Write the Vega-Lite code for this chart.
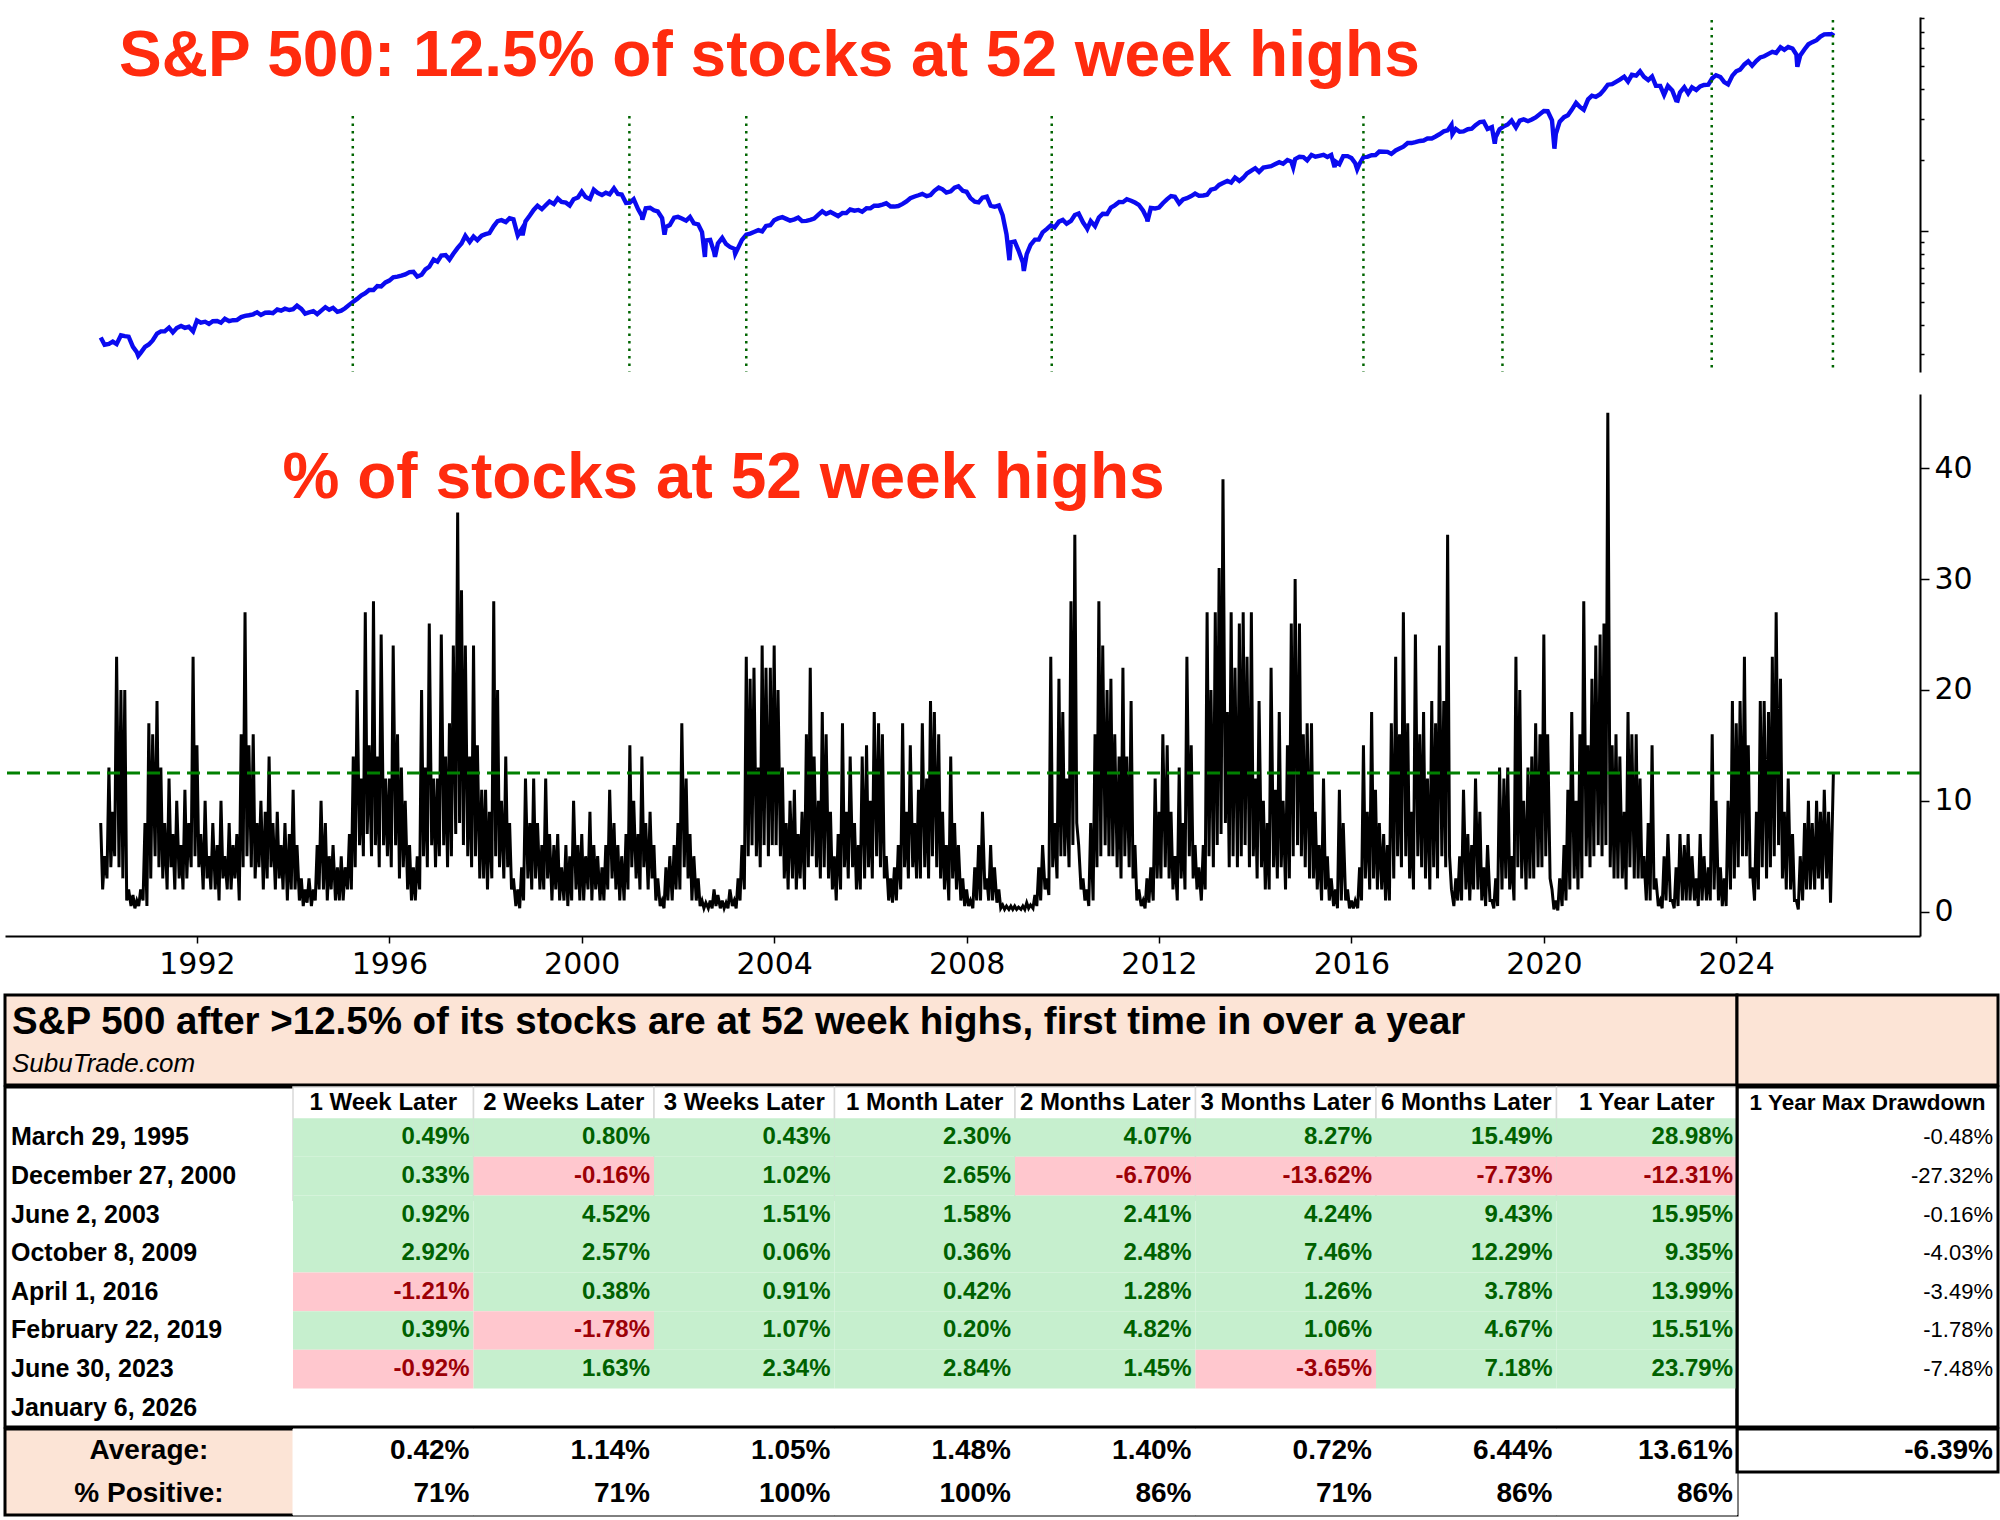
{
  "$schema": "https://vega.github.io/schema/vega-lite/v6.json",
  "padding": {"left": 3, "top": 17, "right": 2, "bottom": 4},
  "config": {
    "view": {"stroke": null},
    "font": "Liberation Sans",
    "locale": {"number": {"decimal": ".", "thousands": ",", "grouping": [3], "currency": ["$", ""], "minus": "-"}},
    "axis": {"labelFont": "DejaVu Sans", "labelColor": "black", "tickColor": "black", "domainColor": "black", "grid": false, "title": null}
  },
  "datasets": {
    "spx": [
      {"t":1990,"p":353},{"t":1990.08,"p":329},{"t":1990.17,"p":332},{"t":1990.25,"p":339},{"t":1990.33,"p":331},{"t":1990.42,"p":361},{"t":1990.5,"p":358},{"t":1990.58,"p":356},{"t":1990.67,"p":322},{"t":1990.75,"p":306},{"t":1990.78,"p":295},{"t":1990.83,"p":304},{"t":1990.92,"p":322},
      {"t":1991,"p":330},{"t":1991.08,"p":343},{"t":1991.17,"p":367},{"t":1991.25,"p":375},{"t":1991.33,"p":375},{"t":1991.42,"p":389},{"t":1991.5,"p":371},{"t":1991.58,"p":387},{"t":1991.67,"p":395},{"t":1991.75,"p":388},{"t":1991.83,"p":392},{"t":1991.92,"p":375},
      {"t":1992,"p":417},{"t":1992.08,"p":408},{"t":1992.17,"p":412},{"t":1992.25,"p":403},{"t":1992.33,"p":414},{"t":1992.42,"p":415},{"t":1992.5,"p":408},{"t":1992.58,"p":424},{"t":1992.67,"p":414},{"t":1992.75,"p":418},{"t":1992.83,"p":419},{"t":1992.92,"p":431},
      {"t":1993,"p":436},{"t":1993.08,"p":439},{"t":1993.17,"p":443},{"t":1993.25,"p":452},{"t":1993.33,"p":440},{"t":1993.42,"p":450},{"t":1993.5,"p":451},{"t":1993.58,"p":448},{"t":1993.67,"p":464},{"t":1993.75,"p":459},{"t":1993.83,"p":468},{"t":1993.92,"p":462},
      {"t":1994,"p":466},{"t":1994.08,"p":482},{"t":1994.17,"p":467},{"t":1994.25,"p":446},{"t":1994.33,"p":451},{"t":1994.42,"p":457},{"t":1994.5,"p":444},{"t":1994.58,"p":458},{"t":1994.67,"p":475},{"t":1994.75,"p":463},{"t":1994.83,"p":472},{"t":1994.92,"p":454},
      {"t":1995,"p":459},{"t":1995.08,"p":470},{"t":1995.17,"p":487},{"t":1995.25,"p":501},{"t":1995.33,"p":515},{"t":1995.42,"p":533},{"t":1995.5,"p":545},{"t":1995.58,"p":562},{"t":1995.67,"p":562},{"t":1995.75,"p":584},{"t":1995.83,"p":582},{"t":1995.92,"p":605},
      {"t":1996,"p":616},{"t":1996.08,"p":636},{"t":1996.17,"p":640},{"t":1996.25,"p":646},{"t":1996.33,"p":654},{"t":1996.42,"p":669},{"t":1996.5,"p":671},{"t":1996.58,"p":640},{"t":1996.67,"p":652},{"t":1996.75,"p":687},{"t":1996.83,"p":705},{"t":1996.92,"p":757},
      {"t":1997,"p":741},{"t":1997.08,"p":786},{"t":1997.17,"p":791},{"t":1997.25,"p":757},{"t":1997.33,"p":801},{"t":1997.42,"p":848},{"t":1997.5,"p":885},{"t":1997.58,"p":954},{"t":1997.67,"p":899},{"t":1997.75,"p":947},{"t":1997.83,"p":915},{"t":1997.92,"p":955},
      {"t":1998,"p":970},{"t":1998.08,"p":980},{"t":1998.17,"p":1049},{"t":1998.25,"p":1102},{"t":1998.33,"p":1112},{"t":1998.42,"p":1091},{"t":1998.5,"p":1134},{"t":1998.58,"p":1121},{"t":1998.67,"p":957},{"t":1998.75,"p":1017},{"t":1998.77,"p":959},{"t":1998.83,"p":1099},{"t":1998.92,"p":1164},
      {"t":1999,"p":1229},{"t":1999.08,"p":1280},{"t":1999.17,"p":1238},{"t":1999.25,"p":1286},{"t":1999.33,"p":1335},{"t":1999.42,"p":1302},{"t":1999.5,"p":1373},{"t":1999.58,"p":1329},{"t":1999.67,"p":1320},{"t":1999.75,"p":1283},{"t":1999.83,"p":1363},{"t":1999.92,"p":1389},
      {"t":2000,"p":1469},{"t":2000.08,"p":1394},{"t":2000.17,"p":1366},{"t":2000.25,"p":1499},{"t":2000.33,"p":1452},{"t":2000.42,"p":1421},{"t":2000.5,"p":1455},{"t":2000.58,"p":1431},{"t":2000.67,"p":1518},{"t":2000.75,"p":1437},{"t":2000.83,"p":1429},{"t":2000.92,"p":1315},
      {"t":2001,"p":1320},{"t":2001.08,"p":1366},{"t":2001.17,"p":1240},{"t":2001.25,"p":1160},{"t":2001.26,"p":1117},{"t":2001.33,"p":1249},{"t":2001.42,"p":1256},{"t":2001.5,"p":1224},{"t":2001.58,"p":1211},{"t":2001.67,"p":1134},{"t":2001.72,"p":966},{"t":2001.75,"p":1041},{"t":2001.83,"p":1060},{"t":2001.92,"p":1139},
      {"t":2002,"p":1148},{"t":2002.08,"p":1130},{"t":2002.17,"p":1107},{"t":2002.25,"p":1147},{"t":2002.33,"p":1077},{"t":2002.42,"p":1067},{"t":2002.5,"p":990},{"t":2002.56,"p":776},{"t":2002.58,"p":912},{"t":2002.67,"p":916},{"t":2002.75,"p":815},{"t":2002.77,"p":777},{"t":2002.83,"p":886},{"t":2002.92,"p":936},
      {"t":2003,"p":880},{"t":2003.08,"p":856},{"t":2003.17,"p":841},{"t":2003.19,"p":800},{"t":2003.25,"p":848},{"t":2003.33,"p":917},{"t":2003.42,"p":964},{"t":2003.5,"p":975},{"t":2003.58,"p":990},{"t":2003.67,"p":1008},{"t":2003.75,"p":996},{"t":2003.83,"p":1051},{"t":2003.92,"p":1058},
      {"t":2004,"p":1112},{"t":2004.08,"p":1131},{"t":2004.17,"p":1145},{"t":2004.25,"p":1126},{"t":2004.33,"p":1107},{"t":2004.42,"p":1121},{"t":2004.5,"p":1141},{"t":2004.58,"p":1102},{"t":2004.67,"p":1104},{"t":2004.75,"p":1115},{"t":2004.83,"p":1130},{"t":2004.92,"p":1174},
      {"t":2005,"p":1212},{"t":2005.08,"p":1181},{"t":2005.17,"p":1204},{"t":2005.25,"p":1181},{"t":2005.33,"p":1157},{"t":2005.42,"p":1192},{"t":2005.5,"p":1191},{"t":2005.58,"p":1234},{"t":2005.67,"p":1220},{"t":2005.75,"p":1229},{"t":2005.83,"p":1207},{"t":2005.92,"p":1249},
      {"t":2006,"p":1248},{"t":2006.08,"p":1280},{"t":2006.17,"p":1281},{"t":2006.25,"p":1295},{"t":2006.33,"p":1311},{"t":2006.42,"p":1270},{"t":2006.5,"p":1270},{"t":2006.58,"p":1277},{"t":2006.67,"p":1304},{"t":2006.75,"p":1336},{"t":2006.83,"p":1378},{"t":2006.92,"p":1401},
      {"t":2007,"p":1418},{"t":2007.08,"p":1438},{"t":2007.17,"p":1407},{"t":2007.25,"p":1421},{"t":2007.33,"p":1482},{"t":2007.42,"p":1531},{"t":2007.5,"p":1503},{"t":2007.58,"p":1455},{"t":2007.67,"p":1474},{"t":2007.75,"p":1527},{"t":2007.83,"p":1549},{"t":2007.92,"p":1481},
      {"t":2008,"p":1468},{"t":2008.08,"p":1379},{"t":2008.17,"p":1331},{"t":2008.25,"p":1323},{"t":2008.33,"p":1386},{"t":2008.42,"p":1400},{"t":2008.5,"p":1280},{"t":2008.58,"p":1267},{"t":2008.67,"p":1283},{"t":2008.75,"p":1166},{"t":2008.83,"p":969},{"t":2008.89,"p":752},{"t":2008.92,"p":896},
      {"t":2009,"p":903},{"t":2009.08,"p":826},{"t":2009.17,"p":735},{"t":2009.19,"p":677},{"t":2009.25,"p":798},{"t":2009.33,"p":873},{"t":2009.42,"p":919},{"t":2009.5,"p":919},{"t":2009.58,"p":987},{"t":2009.67,"p":1021},{"t":2009.75,"p":1057},{"t":2009.83,"p":1036},{"t":2009.92,"p":1096},
      {"t":2010,"p":1115},{"t":2010.08,"p":1074},{"t":2010.17,"p":1104},{"t":2010.25,"p":1169},{"t":2010.33,"p":1187},{"t":2010.42,"p":1089},{"t":2010.5,"p":1031},{"t":2010.51,"p":1022},{"t":2010.58,"p":1102},{"t":2010.67,"p":1049},{"t":2010.75,"p":1141},{"t":2010.83,"p":1183},{"t":2010.92,"p":1181},
      {"t":2011,"p":1258},{"t":2011.08,"p":1286},{"t":2011.17,"p":1327},{"t":2011.25,"p":1326},{"t":2011.33,"p":1364},{"t":2011.42,"p":1345},{"t":2011.5,"p":1321},{"t":2011.58,"p":1292},{"t":2011.67,"p":1219},{"t":2011.75,"p":1131},{"t":2011.76,"p":1099},{"t":2011.83,"p":1253},{"t":2011.92,"p":1247},
      {"t":2012,"p":1258},{"t":2012.08,"p":1312},{"t":2012.17,"p":1366},{"t":2012.25,"p":1408},{"t":2012.33,"p":1398},{"t":2012.42,"p":1310},{"t":2012.5,"p":1362},{"t":2012.58,"p":1379},{"t":2012.67,"p":1407},{"t":2012.75,"p":1441},{"t":2012.83,"p":1412},{"t":2012.92,"p":1416},
      {"t":2013,"p":1426},{"t":2013.08,"p":1498},{"t":2013.17,"p":1515},{"t":2013.25,"p":1569},{"t":2013.33,"p":1598},{"t":2013.42,"p":1631},{"t":2013.5,"p":1606},{"t":2013.58,"p":1686},{"t":2013.67,"p":1633},{"t":2013.75,"p":1682},{"t":2013.83,"p":1757},{"t":2013.92,"p":1806},
      {"t":2014,"p":1848},{"t":2014.08,"p":1783},{"t":2014.17,"p":1859},{"t":2014.25,"p":1872},{"t":2014.33,"p":1884},{"t":2014.42,"p":1924},{"t":2014.5,"p":1960},{"t":2014.58,"p":1931},{"t":2014.67,"p":2003},{"t":2014.75,"p":1972},{"t":2014.79,"p":1862},{"t":2014.83,"p":2018},{"t":2014.92,"p":2068},
      {"t":2015,"p":2059},{"t":2015.08,"p":1995},{"t":2015.17,"p":2105},{"t":2015.25,"p":2068},{"t":2015.33,"p":2086},{"t":2015.42,"p":2107},{"t":2015.5,"p":2063},{"t":2015.58,"p":2104},{"t":2015.65,"p":1867},{"t":2015.67,"p":1972},{"t":2015.75,"p":1920},{"t":2015.83,"p":2079},{"t":2015.92,"p":2080},
      {"t":2016,"p":2044},{"t":2016.08,"p":1940},{"t":2016.12,"p":1829},{"t":2016.17,"p":1932},{"t":2016.25,"p":2060},{"t":2016.33,"p":2065},{"t":2016.42,"p":2097},{"t":2016.5,"p":2099},{"t":2016.58,"p":2174},{"t":2016.67,"p":2171},{"t":2016.75,"p":2168},{"t":2016.83,"p":2126},{"t":2016.92,"p":2199},
      {"t":2017,"p":2239},{"t":2017.08,"p":2279},{"t":2017.17,"p":2364},{"t":2017.25,"p":2363},{"t":2017.33,"p":2384},{"t":2017.42,"p":2412},{"t":2017.5,"p":2423},{"t":2017.58,"p":2470},{"t":2017.67,"p":2472},{"t":2017.75,"p":2519},{"t":2017.83,"p":2575},{"t":2017.92,"p":2648},
      {"t":2018,"p":2674},{"t":2018.08,"p":2824},{"t":2018.1,"p":2581},{"t":2018.17,"p":2714},{"t":2018.25,"p":2641},{"t":2018.33,"p":2648},{"t":2018.42,"p":2705},{"t":2018.5,"p":2718},{"t":2018.58,"p":2816},{"t":2018.67,"p":2902},{"t":2018.75,"p":2914},{"t":2018.83,"p":2712},{"t":2018.92,"p":2760},{"t":2018.98,"p":2351},
      {"t":2019,"p":2507},{"t":2019.08,"p":2704},{"t":2019.17,"p":2784},{"t":2019.25,"p":2834},{"t":2019.33,"p":2946},{"t":2019.42,"p":2752},{"t":2019.5,"p":2942},{"t":2019.58,"p":2980},{"t":2019.67,"p":2926},{"t":2019.75,"p":2977},{"t":2019.83,"p":3038},{"t":2019.92,"p":3141},
      {"t":2020,"p":3231},{"t":2020.08,"p":3226},{"t":2020.17,"p":2954},{"t":2020.22,"p":2237},{"t":2020.25,"p":2585},{"t":2020.33,"p":2912},{"t":2020.42,"p":3044},{"t":2020.5,"p":3100},{"t":2020.58,"p":3271},{"t":2020.67,"p":3500},{"t":2020.75,"p":3363},{"t":2020.83,"p":3270},{"t":2020.92,"p":3622},
      {"t":2021,"p":3756},{"t":2021.08,"p":3714},{"t":2021.17,"p":3811},{"t":2021.25,"p":3973},{"t":2021.33,"p":4181},{"t":2021.42,"p":4204},{"t":2021.5,"p":4298},{"t":2021.58,"p":4395},{"t":2021.67,"p":4523},{"t":2021.75,"p":4308},{"t":2021.83,"p":4605},{"t":2021.92,"p":4567},
      {"t":2022,"p":4766},{"t":2022.08,"p":4516},{"t":2022.17,"p":4374},{"t":2022.25,"p":4530},{"t":2022.33,"p":4132},{"t":2022.42,"p":4132},{"t":2022.5,"p":3785},{"t":2022.58,"p":4130},{"t":2022.67,"p":3955},{"t":2022.75,"p":3586},{"t":2022.78,"p":3577},{"t":2022.83,"p":3872},{"t":2022.92,"p":4080},
      {"t":2023,"p":3840},{"t":2023.08,"p":4077},{"t":2023.17,"p":3970},{"t":2023.25,"p":4109},{"t":2023.33,"p":4169},{"t":2023.42,"p":4180},{"t":2023.5,"p":4450},{"t":2023.58,"p":4589},{"t":2023.67,"p":4508},{"t":2023.75,"p":4288},{"t":2023.83,"p":4194},{"t":2023.92,"p":4568},
      {"t":2024,"p":4770},{"t":2024.08,"p":4846},{"t":2024.17,"p":5096},{"t":2024.25,"p":5254},{"t":2024.33,"p":5036},{"t":2024.42,"p":5278},{"t":2024.5,"p":5460},{"t":2024.58,"p":5522},{"t":2024.67,"p":5648},{"t":2024.75,"p":5762},{"t":2024.83,"p":5705},{"t":2024.92,"p":6032},
      {"t":2025,"p":5882},{"t":2025.08,"p":6041},{"t":2025.17,"p":5955},{"t":2025.25,"p":5612},{"t":2025.27,"p":4982},{"t":2025.33,"p":5569},{"t":2025.42,"p":5912},{"t":2025.5,"p":6205},{"t":2025.58,"p":6339},{"t":2025.67,"p":6460},{"t":2025.75,"p":6688},{"t":2025.83,"p":6840},{"t":2025.92,"p":6849},
      {"t":2026,"p":6845},{"t":2026.02,"p":6944}
    ],
    "pct": [
      {"t":1990,"v":8},{"t":1990.04,"v":2},{"t":1990.08,"v":5},{"t":1990.13,"v":3},{"t":1990.17,"v":13},{"t":1990.21,"v":4},{"t":1990.25,"v":9},{"t":1990.29,"v":5},{"t":1990.33,"v":23},{"t":1990.38,"v":4},{"t":1990.42,"v":20},{"t":1990.46,"v":3},{"t":1990.5,"v":20},{"t":1990.54,"v":1},{"t":1990.58,"v":2},{"t":1990.63,"v":0.5},{"t":1990.67,"v":1.5},{"t":1990.71,"v":0.3},{"t":1990.75,"v":1},{"t":1990.79,"v":0.5},{"t":1990.83,"v":2},{"t":1990.88,"v":1},{"t":1990.92,"v":8},{"t":1990.96,"v":0.5},
      {"t":1991,"v":17},{"t":1991.04,"v":3},{"t":1991.08,"v":16},{"t":1991.13,"v":5},{"t":1991.17,"v":19},{"t":1991.21,"v":4},{"t":1991.25,"v":13},{"t":1991.29,"v":3},{"t":1991.33,"v":8},{"t":1991.38,"v":2},{"t":1991.42,"v":12},{"t":1991.46,"v":4},{"t":1991.5,"v":7},{"t":1991.54,"v":2},{"t":1991.58,"v":10},{"t":1991.63,"v":3},{"t":1991.67,"v":6},{"t":1991.71,"v":2},{"t":1991.75,"v":11},{"t":1991.79,"v":3},{"t":1991.83,"v":8},{"t":1991.88,"v":4},{"t":1991.92,"v":23},{"t":1991.96,"v":5},
      {"t":1992,"v":15},{"t":1992.04,"v":4},{"t":1992.08,"v":7},{"t":1992.13,"v":2},{"t":1992.17,"v":10},{"t":1992.21,"v":3},{"t":1992.25,"v":5},{"t":1992.29,"v":2},{"t":1992.33,"v":8},{"t":1992.38,"v":2},{"t":1992.42,"v":6},{"t":1992.46,"v":1},{"t":1992.5,"v":10},{"t":1992.54,"v":3},{"t":1992.58,"v":5},{"t":1992.63,"v":2},{"t":1992.67,"v":8},{"t":1992.71,"v":2},{"t":1992.75,"v":6},{"t":1992.79,"v":3},{"t":1992.83,"v":7},{"t":1992.88,"v":1},{"t":1992.92,"v":16},{"t":1992.96,"v":4},
      {"t":1993,"v":27},{"t":1993.04,"v":5},{"t":1993.08,"v":15},{"t":1993.13,"v":4},{"t":1993.17,"v":16},{"t":1993.21,"v":3},{"t":1993.25,"v":8},{"t":1993.29,"v":4},{"t":1993.33,"v":10},{"t":1993.38,"v":2},{"t":1993.42,"v":9},{"t":1993.46,"v":3},{"t":1993.5,"v":14},{"t":1993.54,"v":4},{"t":1993.58,"v":8},{"t":1993.63,"v":2},{"t":1993.67,"v":9},{"t":1993.71,"v":3},{"t":1993.75,"v":6},{"t":1993.79,"v":2},{"t":1993.83,"v":8},{"t":1993.88,"v":1},{"t":1993.92,"v":7},{"t":1993.96,"v":2},
      {"t":1994,"v":11},{"t":1994.04,"v":2},{"t":1994.08,"v":6},{"t":1994.13,"v":1},{"t":1994.17,"v":3},{"t":1994.21,"v":0.5},{"t":1994.25,"v":2},{"t":1994.29,"v":0.8},{"t":1994.33,"v":3},{"t":1994.38,"v":0.5},{"t":1994.42,"v":2},{"t":1994.46,"v":1},{"t":1994.5,"v":6},{"t":1994.54,"v":2},{"t":1994.58,"v":10},{"t":1994.63,"v":2},{"t":1994.67,"v":8},{"t":1994.71,"v":1},{"t":1994.75,"v":5},{"t":1994.79,"v":2},{"t":1994.83,"v":6},{"t":1994.88,"v":1},{"t":1994.92,"v":4},{"t":1994.96,"v":1},
      {"t":1995,"v":5},{"t":1995.04,"v":1},{"t":1995.08,"v":4},{"t":1995.13,"v":2},{"t":1995.17,"v":7},{"t":1995.21,"v":2},{"t":1995.25,"v":14},{"t":1995.29,"v":4},{"t":1995.33,"v":20},{"t":1995.38,"v":6},{"t":1995.42,"v":12},{"t":1995.46,"v":5},{"t":1995.5,"v":27},{"t":1995.54,"v":7},{"t":1995.58,"v":15},{"t":1995.63,"v":5},{"t":1995.67,"v":28},{"t":1995.71,"v":6},{"t":1995.75,"v":14},{"t":1995.79,"v":4},{"t":1995.83,"v":25},{"t":1995.88,"v":6},{"t":1995.92,"v":12},{"t":1995.96,"v":5},
      {"t":1996,"v":12},{"t":1996.04,"v":4},{"t":1996.08,"v":24},{"t":1996.13,"v":6},{"t":1996.17,"v":16},{"t":1996.21,"v":3},{"t":1996.25,"v":13},{"t":1996.29,"v":4},{"t":1996.33,"v":10},{"t":1996.38,"v":2},{"t":1996.42,"v":6},{"t":1996.46,"v":1},{"t":1996.5,"v":4},{"t":1996.54,"v":1},{"t":1996.58,"v":5},{"t":1996.63,"v":2},{"t":1996.67,"v":20},{"t":1996.71,"v":5},{"t":1996.75,"v":13},{"t":1996.79,"v":4},{"t":1996.83,"v":26},{"t":1996.88,"v":6},{"t":1996.92,"v":12},{"t":1996.96,"v":4},
      {"t":1997,"v":12},{"t":1997.04,"v":5},{"t":1997.08,"v":25},{"t":1997.13,"v":6},{"t":1997.17,"v":14},{"t":1997.21,"v":4},{"t":1997.25,"v":17},{"t":1997.29,"v":5},{"t":1997.33,"v":24},{"t":1997.38,"v":7},{"t":1997.42,"v":36},{"t":1997.46,"v":8},{"t":1997.5,"v":29},{"t":1997.54,"v":6},{"t":1997.58,"v":24},{"t":1997.63,"v":5},{"t":1997.67,"v":14},{"t":1997.71,"v":4},{"t":1997.75,"v":24},{"t":1997.79,"v":5},{"t":1997.83,"v":15},{"t":1997.88,"v":3},{"t":1997.92,"v":11},{"t":1997.96,"v":3},
      {"t":1998,"v":11},{"t":1998.04,"v":2},{"t":1998.08,"v":9},{"t":1998.13,"v":3},{"t":1998.17,"v":28},{"t":1998.21,"v":5},{"t":1998.25,"v":20},{"t":1998.29,"v":4},{"t":1998.33,"v":10},{"t":1998.38,"v":3},{"t":1998.42,"v":14},{"t":1998.46,"v":4},{"t":1998.5,"v":8},{"t":1998.54,"v":2},{"t":1998.58,"v":3},{"t":1998.63,"v":0.5},{"t":1998.67,"v":2},{"t":1998.71,"v":0.3},{"t":1998.75,"v":4},{"t":1998.79,"v":1},{"t":1998.83,"v":12},{"t":1998.88,"v":3},{"t":1998.92,"v":8},{"t":1998.96,"v":2},
      {"t":1999,"v":12},{"t":1999.04,"v":3},{"t":1999.08,"v":8},{"t":1999.13,"v":2},{"t":1999.17,"v":6},{"t":1999.21,"v":2},{"t":1999.25,"v":12},{"t":1999.29,"v":3},{"t":1999.33,"v":7},{"t":1999.38,"v":1},{"t":1999.42,"v":6},{"t":1999.46,"v":2},{"t":1999.5,"v":7},{"t":1999.54,"v":1},{"t":1999.58,"v":4},{"t":1999.63,"v":1},{"t":1999.67,"v":6},{"t":1999.71,"v":0.5},{"t":1999.75,"v":5},{"t":1999.79,"v":1},{"t":1999.83,"v":10},{"t":1999.88,"v":2},{"t":1999.92,"v":6},{"t":1999.96,"v":1},
      {"t":2000,"v":7},{"t":2000.04,"v":1},{"t":2000.08,"v":5},{"t":2000.13,"v":2},{"t":2000.17,"v":9},{"t":2000.21,"v":1},{"t":2000.25,"v":6},{"t":2000.29,"v":2},{"t":2000.33,"v":5},{"t":2000.38,"v":1},{"t":2000.42,"v":4},{"t":2000.46,"v":1},{"t":2000.5,"v":6},{"t":2000.54,"v":2},{"t":2000.58,"v":11},{"t":2000.63,"v":3},{"t":2000.67,"v":8},{"t":2000.71,"v":2},{"t":2000.75,"v":6},{"t":2000.79,"v":1},{"t":2000.83,"v":5},{"t":2000.88,"v":1},{"t":2000.92,"v":7},{"t":2000.96,"v":2},
      {"t":2001,"v":15},{"t":2001.04,"v":4},{"t":2001.08,"v":10},{"t":2001.13,"v":3},{"t":2001.17,"v":7},{"t":2001.21,"v":2},{"t":2001.25,"v":14},{"t":2001.29,"v":4},{"t":2001.33,"v":8},{"t":2001.38,"v":2},{"t":2001.42,"v":9},{"t":2001.46,"v":3},{"t":2001.5,"v":6},{"t":2001.54,"v":1},{"t":2001.58,"v":3},{"t":2001.63,"v":0.5},{"t":2001.67,"v":1},{"t":2001.71,"v":0.3},{"t":2001.75,"v":4},{"t":2001.79,"v":1},{"t":2001.83,"v":5},{"t":2001.88,"v":1},{"t":2001.92,"v":6},{"t":2001.96,"v":2},
      {"t":2002,"v":8},{"t":2002.04,"v":2},{"t":2002.08,"v":17},{"t":2002.13,"v":4},{"t":2002.17,"v":12},{"t":2002.21,"v":3},{"t":2002.25,"v":7},{"t":2002.29,"v":1},{"t":2002.33,"v":5},{"t":2002.38,"v":1},{"t":2002.42,"v":3},{"t":2002.46,"v":0.5},{"t":2002.5,"v":1},{"t":2002.54,"v":0.3},{"t":2002.58,"v":0.8},{"t":2002.63,"v":0.3},{"t":2002.67,"v":1},{"t":2002.71,"v":0.3},{"t":2002.75,"v":2},{"t":2002.79,"v":0.5},{"t":2002.83,"v":1.5},{"t":2002.88,"v":0.3},{"t":2002.92,"v":1},{"t":2002.96,"v":0.3},
      {"t":2003,"v":0.8},{"t":2003.04,"v":0.3},{"t":2003.08,"v":2},{"t":2003.13,"v":0.5},{"t":2003.17,"v":1},{"t":2003.21,"v":0.3},{"t":2003.25,"v":3},{"t":2003.29,"v":1},{"t":2003.33,"v":6},{"t":2003.38,"v":2},{"t":2003.42,"v":23},{"t":2003.46,"v":5},{"t":2003.5,"v":21},{"t":2003.54,"v":6},{"t":2003.58,"v":22},{"t":2003.63,"v":5},{"t":2003.67,"v":13},{"t":2003.71,"v":4},{"t":2003.75,"v":24},{"t":2003.79,"v":6},{"t":2003.83,"v":22},{"t":2003.88,"v":5},{"t":2003.92,"v":22},{"t":2003.96,"v":6},
      {"t":2004,"v":24},{"t":2004.04,"v":6},{"t":2004.08,"v":20},{"t":2004.13,"v":5},{"t":2004.17,"v":13},{"t":2004.21,"v":3},{"t":2004.25,"v":8},{"t":2004.29,"v":2},{"t":2004.33,"v":10},{"t":2004.38,"v":3},{"t":2004.42,"v":11},{"t":2004.46,"v":2},{"t":2004.5,"v":7},{"t":2004.54,"v":3},{"t":2004.58,"v":9},{"t":2004.63,"v":2},{"t":2004.67,"v":16},{"t":2004.71,"v":4},{"t":2004.75,"v":22},{"t":2004.79,"v":5},{"t":2004.83,"v":14},{"t":2004.88,"v":4},{"t":2004.92,"v":10},{"t":2004.96,"v":3},
      {"t":2005,"v":18},{"t":2005.04,"v":4},{"t":2005.08,"v":16},{"t":2005.13,"v":3},{"t":2005.17,"v":9},{"t":2005.21,"v":2},{"t":2005.25,"v":5},{"t":2005.29,"v":1},{"t":2005.33,"v":7},{"t":2005.38,"v":2},{"t":2005.42,"v":17},{"t":2005.46,"v":4},{"t":2005.5,"v":9},{"t":2005.54,"v":3},{"t":2005.58,"v":14},{"t":2005.63,"v":4},{"t":2005.67,"v":8},{"t":2005.71,"v":2},{"t":2005.75,"v":6},{"t":2005.79,"v":2},{"t":2005.83,"v":14},{"t":2005.88,"v":3},{"t":2005.92,"v":15},{"t":2005.96,"v":4},
      {"t":2006,"v":10},{"t":2006.04,"v":3},{"t":2006.08,"v":18},{"t":2006.13,"v":5},{"t":2006.17,"v":17},{"t":2006.21,"v":4},{"t":2006.25,"v":16},{"t":2006.29,"v":3},{"t":2006.33,"v":5},{"t":2006.38,"v":1},{"t":2006.42,"v":3},{"t":2006.46,"v":0.8},{"t":2006.5,"v":4},{"t":2006.54,"v":1},{"t":2006.58,"v":6},{"t":2006.63,"v":2},{"t":2006.67,"v":17},{"t":2006.71,"v":4},{"t":2006.75,"v":9},{"t":2006.79,"v":3},{"t":2006.83,"v":15},{"t":2006.88,"v":4},{"t":2006.92,"v":8},{"t":2006.96,"v":3},
      {"t":2007,"v":11},{"t":2007.04,"v":3},{"t":2007.08,"v":17},{"t":2007.13,"v":4},{"t":2007.17,"v":12},{"t":2007.21,"v":3},{"t":2007.25,"v":19},{"t":2007.29,"v":5},{"t":2007.33,"v":18},{"t":2007.38,"v":4},{"t":2007.42,"v":16},{"t":2007.46,"v":3},{"t":2007.5,"v":9},{"t":2007.54,"v":2},{"t":2007.58,"v":6},{"t":2007.63,"v":1},{"t":2007.67,"v":14},{"t":2007.71,"v":3},{"t":2007.75,"v":8},{"t":2007.79,"v":2},{"t":2007.83,"v":6},{"t":2007.88,"v":1},{"t":2007.92,"v":3},{"t":2007.96,"v":0.5},
      {"t":2008,"v":2},{"t":2008.04,"v":0.5},{"t":2008.08,"v":1},{"t":2008.13,"v":0.3},{"t":2008.17,"v":4},{"t":2008.21,"v":1},{"t":2008.25,"v":6},{"t":2008.29,"v":1},{"t":2008.33,"v":9},{"t":2008.38,"v":2},{"t":2008.42,"v":3},{"t":2008.46,"v":1},{"t":2008.5,"v":6},{"t":2008.54,"v":1},{"t":2008.58,"v":4},{"t":2008.63,"v":0.8},{"t":2008.67,"v":2},{"t":2008.71,"v":0.3},{"t":2008.75,"v":0.6},{"t":2008.79,"v":0.2},{"t":2008.83,"v":0.5},{"t":2008.88,"v":0.2},{"t":2008.92,"v":0.5},{"t":2008.96,"v":0.2},
      {"t":2009,"v":0.5},{"t":2009.04,"v":0.2},{"t":2009.08,"v":0.4},{"t":2009.13,"v":0.2},{"t":2009.17,"v":0.5},{"t":2009.21,"v":0.2},{"t":2009.25,"v":0.8},{"t":2009.29,"v":0.3},{"t":2009.33,"v":0.6},{"t":2009.38,"v":0.3},{"t":2009.42,"v":1.5},{"t":2009.46,"v":0.5},{"t":2009.5,"v":4},{"t":2009.54,"v":1},{"t":2009.58,"v":6},{"t":2009.63,"v":2},{"t":2009.67,"v":3},{"t":2009.71,"v":1.5},{"t":2009.75,"v":23},{"t":2009.79,"v":4},{"t":2009.83,"v":8},{"t":2009.88,"v":3},{"t":2009.92,"v":21},{"t":2009.96,"v":5},
      {"t":2010,"v":18},{"t":2010.04,"v":5},{"t":2010.08,"v":12},{"t":2010.13,"v":4},{"t":2010.17,"v":28},{"t":2010.21,"v":6},{"t":2010.25,"v":34},{"t":2010.29,"v":8},{"t":2010.33,"v":6},{"t":2010.38,"v":2},{"t":2010.42,"v":3},{"t":2010.46,"v":1},{"t":2010.5,"v":2},{"t":2010.54,"v":0.5},{"t":2010.58,"v":8},{"t":2010.63,"v":1},{"t":2010.67,"v":16},{"t":2010.71,"v":4},{"t":2010.75,"v":28},{"t":2010.79,"v":5},{"t":2010.83,"v":24},{"t":2010.88,"v":6},{"t":2010.92,"v":20},{"t":2010.96,"v":5},
      {"t":2011,"v":21},{"t":2011.04,"v":5},{"t":2011.08,"v":16},{"t":2011.13,"v":4},{"t":2011.17,"v":14},{"t":2011.21,"v":3},{"t":2011.25,"v":22},{"t":2011.29,"v":5},{"t":2011.33,"v":14},{"t":2011.38,"v":4},{"t":2011.42,"v":19},{"t":2011.46,"v":3},{"t":2011.5,"v":6},{"t":2011.54,"v":1},{"t":2011.58,"v":2},{"t":2011.63,"v":0.5},{"t":2011.67,"v":1},{"t":2011.71,"v":0.3},{"t":2011.75,"v":3},{"t":2011.79,"v":0.8},{"t":2011.83,"v":4},{"t":2011.88,"v":1},{"t":2011.92,"v":12},{"t":2011.96,"v":3},
      {"t":2012,"v":9},{"t":2012.04,"v":3},{"t":2012.08,"v":16},{"t":2012.13,"v":4},{"t":2012.17,"v":15},{"t":2012.21,"v":3},{"t":2012.25,"v":9},{"t":2012.29,"v":2},{"t":2012.33,"v":5},{"t":2012.38,"v":1},{"t":2012.42,"v":13},{"t":2012.46,"v":3},{"t":2012.5,"v":8},{"t":2012.54,"v":2},{"t":2012.58,"v":23},{"t":2012.63,"v":5},{"t":2012.67,"v":15},{"t":2012.71,"v":3},{"t":2012.75,"v":6},{"t":2012.79,"v":2},{"t":2012.83,"v":4},{"t":2012.88,"v":1},{"t":2012.92,"v":6},{"t":2012.96,"v":2},
      {"t":2013,"v":27},{"t":2013.04,"v":5},{"t":2013.08,"v":20},{"t":2013.13,"v":4},{"t":2013.17,"v":27},{"t":2013.21,"v":6},{"t":2013.25,"v":31},{"t":2013.29,"v":7},{"t":2013.33,"v":39},{"t":2013.38,"v":8},{"t":2013.42,"v":18},{"t":2013.46,"v":4},{"t":2013.5,"v":27},{"t":2013.54,"v":5},{"t":2013.58,"v":22},{"t":2013.63,"v":4},{"t":2013.67,"v":26},{"t":2013.71,"v":5},{"t":2013.75,"v":27},{"t":2013.79,"v":6},{"t":2013.83,"v":23},{"t":2013.88,"v":4},{"t":2013.92,"v":27},{"t":2013.96,"v":5},
      {"t":2014,"v":12},{"t":2014.04,"v":3},{"t":2014.08,"v":19},{"t":2014.13,"v":4},{"t":2014.17,"v":10},{"t":2014.21,"v":2},{"t":2014.25,"v":8},{"t":2014.29,"v":2},{"t":2014.33,"v":22},{"t":2014.38,"v":4},{"t":2014.42,"v":11},{"t":2014.46,"v":3},{"t":2014.5,"v":18},{"t":2014.54,"v":4},{"t":2014.58,"v":10},{"t":2014.63,"v":2},{"t":2014.67,"v":15},{"t":2014.71,"v":3},{"t":2014.75,"v":26},{"t":2014.79,"v":5},{"t":2014.83,"v":30},{"t":2014.88,"v":6},{"t":2014.92,"v":26},{"t":2014.96,"v":5},
      {"t":2015,"v":16},{"t":2015.04,"v":4},{"t":2015.08,"v":17},{"t":2015.13,"v":3},{"t":2015.17,"v":17},{"t":2015.21,"v":3},{"t":2015.25,"v":9},{"t":2015.29,"v":2},{"t":2015.33,"v":6},{"t":2015.38,"v":1},{"t":2015.42,"v":12},{"t":2015.46,"v":2},{"t":2015.5,"v":5},{"t":2015.54,"v":1},{"t":2015.58,"v":3},{"t":2015.63,"v":0.5},{"t":2015.67,"v":2},{"t":2015.71,"v":0.3},{"t":2015.75,"v":11},{"t":2015.79,"v":1},{"t":2015.83,"v":8},{"t":2015.88,"v":1},{"t":2015.92,"v":2},{"t":2015.96,"v":0.3},
      {"t":2016,"v":1},{"t":2016.04,"v":0.3},{"t":2016.08,"v":1},{"t":2016.13,"v":0.3},{"t":2016.17,"v":4},{"t":2016.21,"v":1},{"t":2016.25,"v":15},{"t":2016.29,"v":3},{"t":2016.33,"v":9},{"t":2016.38,"v":2},{"t":2016.42,"v":18},{"t":2016.46,"v":3},{"t":2016.5,"v":11},{"t":2016.54,"v":2},{"t":2016.58,"v":8},{"t":2016.63,"v":2},{"t":2016.67,"v":7},{"t":2016.71,"v":1},{"t":2016.75,"v":6},{"t":2016.79,"v":1},{"t":2016.83,"v":17},{"t":2016.88,"v":3},{"t":2016.92,"v":23},{"t":2016.96,"v":5},
      {"t":2017,"v":16},{"t":2017.04,"v":4},{"t":2017.08,"v":27},{"t":2017.13,"v":5},{"t":2017.17,"v":17},{"t":2017.21,"v":3},{"t":2017.25,"v":9},{"t":2017.29,"v":2},{"t":2017.33,"v":25},{"t":2017.38,"v":5},{"t":2017.42,"v":16},{"t":2017.46,"v":4},{"t":2017.5,"v":18},{"t":2017.54,"v":3},{"t":2017.58,"v":12},{"t":2017.63,"v":2},{"t":2017.67,"v":19},{"t":2017.71,"v":4},{"t":2017.75,"v":17},{"t":2017.79,"v":3},{"t":2017.83,"v":24},{"t":2017.88,"v":5},{"t":2017.92,"v":19},{"t":2017.96,"v":4},
      {"t":2018,"v":34},{"t":2018.04,"v":5},{"t":2018.08,"v":2},{"t":2018.13,"v":0.5},{"t":2018.17,"v":3},{"t":2018.21,"v":1},{"t":2018.25,"v":5},{"t":2018.29,"v":1},{"t":2018.33,"v":11},{"t":2018.38,"v":2},{"t":2018.42,"v":7},{"t":2018.46,"v":1},{"t":2018.5,"v":6},{"t":2018.54,"v":2},{"t":2018.58,"v":12},{"t":2018.63,"v":2},{"t":2018.67,"v":9},{"t":2018.71,"v":1},{"t":2018.75,"v":4},{"t":2018.79,"v":0.5},{"t":2018.83,"v":6},{"t":2018.88,"v":1},{"t":2018.92,"v":1},{"t":2018.96,"v":0.3},
      {"t":2019,"v":3},{"t":2019.04,"v":0.5},{"t":2019.08,"v":13},{"t":2019.13,"v":2},{"t":2019.17,"v":12},{"t":2019.21,"v":3},{"t":2019.25,"v":13},{"t":2019.29,"v":2},{"t":2019.33,"v":5},{"t":2019.38,"v":1},{"t":2019.42,"v":23},{"t":2019.46,"v":4},{"t":2019.5,"v":20},{"t":2019.54,"v":3},{"t":2019.58,"v":10},{"t":2019.63,"v":2},{"t":2019.67,"v":13},{"t":2019.71,"v":3},{"t":2019.75,"v":14},{"t":2019.79,"v":3},{"t":2019.83,"v":17},{"t":2019.88,"v":4},{"t":2019.92,"v":16},{"t":2019.96,"v":4},
      {"t":2020,"v":25},{"t":2020.04,"v":5},{"t":2020.08,"v":16},{"t":2020.13,"v":3},{"t":2020.17,"v":2},{"t":2020.21,"v":0.2},{"t":2020.25,"v":1},{"t":2020.29,"v":0.1},{"t":2020.33,"v":3},{"t":2020.38,"v":0.5},{"t":2020.42,"v":6},{"t":2020.46,"v":1},{"t":2020.5,"v":11},{"t":2020.54,"v":2},{"t":2020.58,"v":18},{"t":2020.63,"v":3},{"t":2020.67,"v":10},{"t":2020.71,"v":2},{"t":2020.75,"v":16},{"t":2020.79,"v":3},{"t":2020.83,"v":28},{"t":2020.88,"v":5},{"t":2020.92,"v":15},{"t":2020.96,"v":4},
      {"t":2021,"v":21},{"t":2021.04,"v":5},{"t":2021.08,"v":24},{"t":2021.13,"v":6},{"t":2021.17,"v":25},{"t":2021.21,"v":5},{"t":2021.25,"v":26},{"t":2021.29,"v":6},{"t":2021.33,"v":45},{"t":2021.38,"v":4},{"t":2021.42,"v":15},{"t":2021.46,"v":3},{"t":2021.5,"v":16},{"t":2021.54,"v":3},{"t":2021.58,"v":14},{"t":2021.63,"v":3},{"t":2021.67,"v":9},{"t":2021.71,"v":2},{"t":2021.75,"v":18},{"t":2021.79,"v":4},{"t":2021.83,"v":16},{"t":2021.88,"v":3},{"t":2021.92,"v":16},{"t":2021.96,"v":3},
      {"t":2022,"v":12},{"t":2022.04,"v":3},{"t":2022.08,"v":5},{"t":2022.13,"v":1},{"t":2022.17,"v":8},{"t":2022.21,"v":1},{"t":2022.25,"v":15},{"t":2022.29,"v":2},{"t":2022.33,"v":3},{"t":2022.38,"v":0.5},{"t":2022.42,"v":1},{"t":2022.46,"v":0.3},{"t":2022.5,"v":5},{"t":2022.54,"v":1},{"t":2022.58,"v":7},{"t":2022.63,"v":1},{"t":2022.67,"v":1},{"t":2022.71,"v":0.3},{"t":2022.75,"v":4},{"t":2022.79,"v":0.5},{"t":2022.83,"v":7},{"t":2022.88,"v":1},{"t":2022.92,"v":6},{"t":2022.96,"v":1},
      {"t":2023,"v":7},{"t":2023.04,"v":1},{"t":2023.08,"v":5},{"t":2023.13,"v":1},{"t":2023.17,"v":3},{"t":2023.21,"v":0.5},{"t":2023.25,"v":7},{"t":2023.29,"v":1},{"t":2023.33,"v":5},{"t":2023.38,"v":1},{"t":2023.42,"v":4},{"t":2023.46,"v":1},{"t":2023.5,"v":16},{"t":2023.54,"v":2},{"t":2023.58,"v":10},{"t":2023.63,"v":1},{"t":2023.67,"v":4},{"t":2023.71,"v":0.5},{"t":2023.75,"v":3},{"t":2023.79,"v":0.5},{"t":2023.83,"v":10},{"t":2023.88,"v":2},{"t":2023.92,"v":19},{"t":2023.96,"v":3},
      {"t":2024,"v":17},{"t":2024.04,"v":4},{"t":2024.08,"v":19},{"t":2024.13,"v":5},{"t":2024.17,"v":23},{"t":2024.21,"v":5},{"t":2024.25,"v":15},{"t":2024.29,"v":3},{"t":2024.33,"v":4},{"t":2024.38,"v":1},{"t":2024.42,"v":9},{"t":2024.46,"v":2},{"t":2024.5,"v":19},{"t":2024.54,"v":4},{"t":2024.58,"v":19},{"t":2024.63,"v":3},{"t":2024.67,"v":18},{"t":2024.71,"v":4},{"t":2024.75,"v":23},{"t":2024.79,"v":5},{"t":2024.83,"v":27},{"t":2024.88,"v":6},{"t":2024.92,"v":21},{"t":2024.96,"v":3},
      {"t":2025,"v":9},{"t":2025.04,"v":2},{"t":2025.08,"v":12},{"t":2025.13,"v":2},{"t":2025.17,"v":7},{"t":2025.21,"v":1},{"t":2025.25,"v":1},{"t":2025.29,"v":0.2},{"t":2025.33,"v":5},{"t":2025.38,"v":1},{"t":2025.42,"v":8},{"t":2025.46,"v":2},{"t":2025.5,"v":10},{"t":2025.54,"v":2},{"t":2025.58,"v":8},{"t":2025.63,"v":2},{"t":2025.67,"v":10},{"t":2025.71,"v":3},{"t":2025.75,"v":9},{"t":2025.79,"v":2},{"t":2025.83,"v":11},{"t":2025.88,"v":3},{"t":2025.92,"v":9},{"t":2025.96,"v":0.8},
      {"t":2026.02,"v":12.6}
    ],
    "signals": [{"t":1995.24},{"t":2000.99},{"t":2003.42},{"t":2009.77},{"t":2016.25},{"t":2019.14},{"t":2023.49},{"t":2026.01}],
    "periods": [{"period":"1 Week Later"},{"period":"2 Weeks Later"},{"period":"3 Weeks Later"},{"period":"1 Month Later"},{"period":"2 Months Later"},{"period":"3 Months Later"},{"period":"6 Months Later"},{"period":"1 Year Later"}],
    "dates": [{"date":"March 29, 1995"},{"date":"December 27, 2000"},{"date":"June 2, 2003"},{"date":"October 8, 2009"},{"date":"April 1, 2016"},{"date":"February 22, 2019"},{"date":"June 30, 2023"},{"date":"January 6, 2026"}],
    "cells": [
      {"date":"March 29, 1995","period":"1 Week Later","ret":0.0049},{"date":"March 29, 1995","period":"2 Weeks Later","ret":0.008},{"date":"March 29, 1995","period":"3 Weeks Later","ret":0.0043},{"date":"March 29, 1995","period":"1 Month Later","ret":0.023},{"date":"March 29, 1995","period":"2 Months Later","ret":0.0407},{"date":"March 29, 1995","period":"3 Months Later","ret":0.0827},{"date":"March 29, 1995","period":"6 Months Later","ret":0.1549},{"date":"March 29, 1995","period":"1 Year Later","ret":0.2898},
      {"date":"December 27, 2000","period":"1 Week Later","ret":0.0033},{"date":"December 27, 2000","period":"2 Weeks Later","ret":-0.0016},{"date":"December 27, 2000","period":"3 Weeks Later","ret":0.0102},{"date":"December 27, 2000","period":"1 Month Later","ret":0.0265},{"date":"December 27, 2000","period":"2 Months Later","ret":-0.067},{"date":"December 27, 2000","period":"3 Months Later","ret":-0.1362},{"date":"December 27, 2000","period":"6 Months Later","ret":-0.0773},{"date":"December 27, 2000","period":"1 Year Later","ret":-0.1231},
      {"date":"June 2, 2003","period":"1 Week Later","ret":0.0092},{"date":"June 2, 2003","period":"2 Weeks Later","ret":0.0452},{"date":"June 2, 2003","period":"3 Weeks Later","ret":0.0151},{"date":"June 2, 2003","period":"1 Month Later","ret":0.0158},{"date":"June 2, 2003","period":"2 Months Later","ret":0.0241},{"date":"June 2, 2003","period":"3 Months Later","ret":0.0424},{"date":"June 2, 2003","period":"6 Months Later","ret":0.0943},{"date":"June 2, 2003","period":"1 Year Later","ret":0.1595},
      {"date":"October 8, 2009","period":"1 Week Later","ret":0.0292},{"date":"October 8, 2009","period":"2 Weeks Later","ret":0.0257},{"date":"October 8, 2009","period":"3 Weeks Later","ret":0.0006},{"date":"October 8, 2009","period":"1 Month Later","ret":0.0036},{"date":"October 8, 2009","period":"2 Months Later","ret":0.0248},{"date":"October 8, 2009","period":"3 Months Later","ret":0.0746},{"date":"October 8, 2009","period":"6 Months Later","ret":0.1229},{"date":"October 8, 2009","period":"1 Year Later","ret":0.0935},
      {"date":"April 1, 2016","period":"1 Week Later","ret":-0.0121},{"date":"April 1, 2016","period":"2 Weeks Later","ret":0.0038},{"date":"April 1, 2016","period":"3 Weeks Later","ret":0.0091},{"date":"April 1, 2016","period":"1 Month Later","ret":0.0042},{"date":"April 1, 2016","period":"2 Months Later","ret":0.0128},{"date":"April 1, 2016","period":"3 Months Later","ret":0.0126},{"date":"April 1, 2016","period":"6 Months Later","ret":0.0378},{"date":"April 1, 2016","period":"1 Year Later","ret":0.1399},
      {"date":"February 22, 2019","period":"1 Week Later","ret":0.0039},{"date":"February 22, 2019","period":"2 Weeks Later","ret":-0.0178},{"date":"February 22, 2019","period":"3 Weeks Later","ret":0.0107},{"date":"February 22, 2019","period":"1 Month Later","ret":0.002},{"date":"February 22, 2019","period":"2 Months Later","ret":0.0482},{"date":"February 22, 2019","period":"3 Months Later","ret":0.0106},{"date":"February 22, 2019","period":"6 Months Later","ret":0.0467},{"date":"February 22, 2019","period":"1 Year Later","ret":0.1551},
      {"date":"June 30, 2023","period":"1 Week Later","ret":-0.0092},{"date":"June 30, 2023","period":"2 Weeks Later","ret":0.0163},{"date":"June 30, 2023","period":"3 Weeks Later","ret":0.0234},{"date":"June 30, 2023","period":"1 Month Later","ret":0.0284},{"date":"June 30, 2023","period":"2 Months Later","ret":0.0145},{"date":"June 30, 2023","period":"3 Months Later","ret":-0.0365},{"date":"June 30, 2023","period":"6 Months Later","ret":0.0718},{"date":"June 30, 2023","period":"1 Year Later","ret":0.2379}
    ],
    "maxdd": [{"date":"March 29, 1995","period":"1 Year Max Drawdown","maxdd":-0.0048},{"date":"December 27, 2000","period":"1 Year Max Drawdown","maxdd":-0.2732},{"date":"June 2, 2003","period":"1 Year Max Drawdown","maxdd":-0.0016},{"date":"October 8, 2009","period":"1 Year Max Drawdown","maxdd":-0.0403},{"date":"April 1, 2016","period":"1 Year Max Drawdown","maxdd":-0.0349},{"date":"February 22, 2019","period":"1 Year Max Drawdown","maxdd":-0.0178},{"date":"June 30, 2023","period":"1 Year Max Drawdown","maxdd":-0.0748}],
    "stats": [{"stat":"Average:"},{"stat":"% Positive:"}],
    "summary": [
      {"stat":"Average:","period":"1 Week Later","value":0.0042},{"stat":"Average:","period":"2 Weeks Later","value":0.0114},{"stat":"Average:","period":"3 Weeks Later","value":0.0105},{"stat":"Average:","period":"1 Month Later","value":0.0148},{"stat":"Average:","period":"2 Months Later","value":0.014},{"stat":"Average:","period":"3 Months Later","value":0.0072},{"stat":"Average:","period":"6 Months Later","value":0.0644},{"stat":"Average:","period":"1 Year Later","value":0.1361},
      {"stat":"% Positive:","period":"1 Week Later","value":0.71},{"stat":"% Positive:","period":"2 Weeks Later","value":0.71},{"stat":"% Positive:","period":"3 Weeks Later","value":1},{"stat":"% Positive:","period":"1 Month Later","value":1},{"stat":"% Positive:","period":"2 Months Later","value":0.86},{"stat":"% Positive:","period":"3 Months Later","value":0.71},{"stat":"% Positive:","period":"6 Months Later","value":0.86},{"stat":"% Positive:","period":"1 Year Later","value":0.86}
    ]
  },
  "spacing": 14,
  "vconcat": [
    {
      "spacing": 21,
      "vconcat": [
        {
          "width": 1915,
          "height": 355,
          "layer": [
            {
              "data": {"name": "spx"},
              "mark": {"type": "line", "color": "#0a0af0", "strokeWidth": 4.4},
              "encoding": {
                "x": {"field": "t", "type": "quantitative", "scale": {"domain": [1988.01, 2027.82], "nice": false, "zero": false}, "axis": null},
                "y": {"field": "p", "type": "quantitative", "scale": {"type": "log", "domain": [252, 8104], "nice": false},
                  "axis": {"orient": "right", "values": [300, 400, 500, 600, 700, 800, 900, 1000, 2000, 3000, 4000, 5000, 6000, 7000, 8000], "labels": false, "domainWidth": 2, "tickWidth": 1.5,
                    "tickSize": {"condition": {"test": "datum.value === 1000", "value": 8}, "value": 4}}}
              }
            },
            {
              "data": {"name": "signals"},
              "transform": [{"filter": "datum.t < 2020"}],
              "mark": {"type": "rule", "color": "#006400", "strokeWidth": 2.5, "strokeDash": [2.5, 5]},
              "encoding": {"x": {"field": "t", "type": "quantitative"}, "y": {"datum": 3080}, "y2": {"datum": 253}}
            },
            {
              "data": {"name": "signals"},
              "transform": [{"filter": "datum.t > 2020"}],
              "mark": {"type": "rule", "color": "#006400", "strokeWidth": 2.5, "strokeDash": [2.5, 5]},
              "encoding": {"x": {"field": "t", "type": "quantitative"}, "y": {"datum": 7870}, "y2": {"datum": 253}}
            },
            {
              "data": {"values": [{"label": "S&P 500: 12.5% of stocks at 52 week highs"}]},
              "mark": {"type": "text", "align": "left", "baseline": "alphabetic", "fontSize": 64, "fontWeight": "bold", "color": "#ff2b0e"},
              "encoding": {"x": {"datum": 1990.38}, "y": {"datum": 4553}, "text": {"field": "label"}}
            }
          ]
        },
        {
          "width": 1915,
          "height": 542,
          "layer": [
            {
              "data": {"name": "pct"},
              "mark": {"type": "line", "color": "black", "strokeWidth": 3},
              "encoding": {
                "x": {"field": "t", "type": "quantitative", "scale": {"domain": [1988.01, 2027.82], "nice": false, "zero": false},
                  "axis": {"orient": "bottom", "values": [1992, 1996, 2000, 2004, 2008, 2012, 2016, 2020, 2024], "format": "d", "labelFontSize": 30, "labelPadding": 6, "tickSize": 7, "tickWidth": 1.5, "domainWidth": 2, "labelFlush": false, "labelOverlap": false}},
                "y": {"field": "v", "type": "quantitative", "scale": {"domain": [-2.2, 46.7], "nice": false, "zero": false},
                  "axis": {"orient": "right", "values": [0, 10, 20, 30, 40], "labelFontSize": 30, "labelPadding": 5, "tickSize": 9, "tickWidth": 1.5, "domainWidth": 2}}
              }
            },
            {
              "data": {"values": [{}]},
              "mark": {"type": "rule", "color": "#008000", "strokeWidth": 3, "strokeDash": [13, 7]},
              "encoding": {"y": {"datum": 12.5}}
            },
            {
              "data": {"values": [{"label": "% of stocks at 52 week highs"}]},
              "mark": {"type": "text", "align": "left", "baseline": "alphabetic", "fontSize": 64, "fontWeight": "bold", "color": "#ff2b0e"},
              "encoding": {"x": {"datum": 1993.78}, "y": {"datum": 37.3}, "text": {"field": "label"}}
            }
          ]
        }
      ]
    },
    {
      "spacing": -3,
      "vconcat": [
        {
          "spacing": 0,
          "bounds": "flush",
          "hconcat": [
            {
              "width": 1732,
              "height": 90,
              "view": {"fill": "#FCE4D6", "stroke": "black", "strokeWidth": 3},
              "data": {"values": [{"line": "title", "text": "S&P 500 after >12.5% of its stocks are at 52 week highs, first time in over a year"}, {"line": "site", "text": "SubuTrade.com"}]},
              "encoding": {
                "x": {"datum": "left", "type": "nominal", "scale": {"type": "band", "domain": ["left"], "paddingInner": 0, "paddingOuter": 0}, "bandPosition": 0, "axis": null},
                "y": {"field": "line", "type": "nominal", "scale": {"type": "band", "domain": ["title", "site"], "paddingInner": 0, "paddingOuter": 0}, "bandPosition": 0.5, "axis": null},
                "text": {"field": "text"}
              },
              "layer": [
                {"transform": [{"filter": "datum.line == 'title'"}], "mark": {"type": "text", "align": "left", "dx": 7, "dy": 4, "fontSize": 38.5, "fontWeight": "bold"}},
                {"transform": [{"filter": "datum.line == 'site'"}], "mark": {"type": "text", "align": "left", "dx": 7, "dy": 1, "fontSize": 26, "fontStyle": "italic"}}
              ]
            },
            {
              "width": 261,
              "height": 90,
              "view": {"fill": "#FCE4D6", "stroke": "black", "strokeWidth": 3},
              "data": {"values": [{}]},
              "mark": {"type": "text"},
              "encoding": {"text": {"value": ""}}
            }
          ]
        },
        {
          "spacing": 0,
          "bounds": "flush",
          "hconcat": [
            {
              "width": 1732,
              "height": 340,
              "view": {"stroke": "black", "strokeWidth": 3},
              "resolve": {"scale": {"x": "independent", "y": "independent"}, "axis": {"x": "independent"}},
              "layer": [
                {
                  "data": {"name": "periods"},
                  "mark": {"type": "rect", "fill": "white", "stroke": "#D9D9D9", "strokeWidth": 1.5},
                  "encoding": {
                    "x": {"field": "period", "type": "nominal", "scale": {"type": "band", "domain": ["1 Week Later", "2 Weeks Later", "3 Weeks Later", "1 Month Later", "2 Months Later", "3 Months Later", "6 Months Later", "1 Year Later"], "paddingInner": 0, "paddingOuter": 0.7978, "align": 1},
                      "axis": {"orient": "top", "offset": -31.2, "domain": false, "ticks": false, "labelPadding": 15.6, "labelBaseline": "middle", "labelFont": "Liberation Sans", "labelFontSize": 24, "labelFontWeight": "bold", "labelLimit": 0, "labelAngle": 0}},
                    "y": {"datum": "hdr", "type": "nominal", "scale": {"type": "band", "domain": ["hdr"], "paddingInner": 0, "paddingOuter": 1, "align": 0}, "axis": null}
                  }
                },
                {
                  "data": {"name": "cells"},
                  "layer": [
                    {
                      "mark": {"type": "rect"},
                      "encoding": {
                        "x": {"field": "period", "type": "nominal", "scale": {"type": "band", "domain": ["1 Week Later", "2 Weeks Later", "3 Weeks Later", "1 Month Later", "2 Months Later", "3 Months Later", "6 Months Later", "1 Year Later"], "paddingInner": 0, "paddingOuter": 0.7978, "align": 1}, "axis": null},
                        "y": {"field": "date", "type": "nominal", "scale": {"type": "band", "domain": ["March 29, 1995", "December 27, 2000", "June 2, 2003", "October 8, 2009", "April 1, 2016", "February 22, 2019", "June 30, 2023", "January 6, 2026"], "paddingInner": 0, "paddingOuter": 0.404, "align": 1}, "axis": null},
                        "color": {"condition": {"test": "datum.ret < 0", "value": "#FFC7CE"}, "value": "#C6EFCE"}
                      }
                    },
                    {
                      "mark": {"type": "text", "align": "right", "dx": -4, "fontSize": 24, "fontWeight": "bold"},
                      "encoding": {
                        "x": {"field": "period", "type": "nominal", "bandPosition": 1, "scale": {"type": "band", "domain": ["1 Week Later", "2 Weeks Later", "3 Weeks Later", "1 Month Later", "2 Months Later", "3 Months Later", "6 Months Later", "1 Year Later"], "paddingInner": 0, "paddingOuter": 0.7978, "align": 1}, "axis": null},
                        "y": {"field": "date", "type": "nominal", "bandPosition": 0.5, "scale": {"type": "band", "domain": ["March 29, 1995", "December 27, 2000", "June 2, 2003", "October 8, 2009", "April 1, 2016", "February 22, 2019", "June 30, 2023", "January 6, 2026"], "paddingInner": 0, "paddingOuter": 0.404, "align": 1}, "axis": null},
                        "text": {"field": "ret", "format": ".2%"},
                        "color": {"condition": {"test": "datum.ret < 0", "value": "#9C0006"}, "value": "#006100"}
                      }
                    }
                  ]
                },
                {
                  "data": {"name": "dates"},
                  "mark": {"type": "text", "align": "left", "dx": 6, "fontSize": 25, "fontWeight": "bold"},
                  "encoding": {
                    "x": {"datum": "label", "type": "nominal", "bandPosition": 0, "scale": {"type": "band", "domain": ["label"], "paddingInner": 0, "paddingOuter": 1, "align": 0}, "axis": null},
                    "y": {"field": "date", "type": "nominal", "bandPosition": 0.5, "scale": {"type": "band", "domain": ["March 29, 1995", "December 27, 2000", "June 2, 2003", "October 8, 2009", "April 1, 2016", "February 22, 2019", "June 30, 2023", "January 6, 2026"], "paddingInner": 0, "paddingOuter": 0.404, "align": 1}, "axis": null},
                    "text": {"field": "date"}
                  }
                }
              ]
            },
            {
              "width": 261,
              "height": 340,
              "view": {"stroke": "black", "strokeWidth": 3},
              "data": {"name": "maxdd"},
              "mark": {"type": "text", "align": "right", "dx": -5, "fontSize": 22},
              "encoding": {
                "x": {"field": "period", "type": "nominal", "bandPosition": 1, "scale": {"type": "band", "domain": ["1 Year Max Drawdown"], "paddingInner": 0, "paddingOuter": 0},
                  "axis": {"orient": "top", "offset": -31.2, "domain": false, "ticks": false, "labelPadding": 15.6, "labelBaseline": "middle", "labelFont": "Liberation Sans", "labelFontSize": 22.5, "labelFontWeight": "bold", "labelLimit": 0, "labelAngle": 0}},
                "y": {"field": "date", "type": "nominal", "bandPosition": 0.5, "scale": {"type": "band", "domain": ["March 29, 1995", "December 27, 2000", "June 2, 2003", "October 8, 2009", "April 1, 2016", "February 22, 2019", "June 30, 2023", "January 6, 2026"], "paddingInner": 0, "paddingOuter": 0.404, "align": 1}, "axis": null},
                "text": {"field": "maxdd", "format": ".2%"}
              }
            }
          ]
        },
        {
          "spacing": 0,
          "bounds": "flush",
          "hconcat": [
            {
              "width": 1732,
              "height": 86,
              "view": {"fill": "#FCE4D6", "stroke": "black", "strokeWidth": 3},
              "encoding": {
                "y": {"field": "stat", "type": "nominal", "bandPosition": 0.5, "scale": {"type": "band", "domain": ["Average:", "% Positive:"], "paddingInner": 0, "paddingOuter": 0}, "axis": null}
              },
              "layer": [
                {
                  "data": {"name": "summary"},
                  "mark": {"type": "rect", "color": "white", "stroke": "white", "strokeWidth": 1},
                  "encoding": {
                    "x": {"field": "period", "type": "nominal", "scale": {"type": "band", "domain": ["1 Week Later", "2 Weeks Later", "3 Weeks Later", "1 Month Later", "2 Months Later", "3 Months Later", "6 Months Later", "1 Year Later"], "paddingInner": 0, "paddingOuter": 0.7978, "align": 1}, "axis": null},
                    "y": {"field": "stat", "type": "nominal", "scale": {"type": "band", "domain": ["Average:", "% Positive:"], "paddingInner": 0, "paddingOuter": 0}, "axis": null}
                  }
                },
                {
                  "data": {"name": "summary"},
                  "transform": [{"filter": "datum.stat == 'Average:'"}],
                  "mark": {"type": "text", "align": "right", "dx": -4, "fontSize": 28, "fontWeight": "bold"},
                  "encoding": {
                    "x": {"field": "period", "type": "nominal", "bandPosition": 1, "scale": {"type": "band", "domain": ["1 Week Later", "2 Weeks Later", "3 Weeks Later", "1 Month Later", "2 Months Later", "3 Months Later", "6 Months Later", "1 Year Later"], "paddingInner": 0, "paddingOuter": 0.7978, "align": 1}, "axis": null},
                    "text": {"field": "value", "format": ".2%"}
                  }
                },
                {
                  "data": {"name": "summary"},
                  "transform": [{"filter": "datum.stat == '% Positive:'"}],
                  "mark": {"type": "text", "align": "right", "dx": -4, "fontSize": 28, "fontWeight": "bold"},
                  "encoding": {
                    "x": {"field": "period", "type": "nominal", "bandPosition": 1, "scale": {"type": "band", "domain": ["1 Week Later", "2 Weeks Later", "3 Weeks Later", "1 Month Later", "2 Months Later", "3 Months Later", "6 Months Later", "1 Year Later"], "paddingInner": 0, "paddingOuter": 0.7978, "align": 1}, "axis": null},
                    "text": {"field": "value", "format": ".0%"}
                  }
                },
                {
                  "data": {"name": "stats"},
                  "mark": {"type": "text", "align": "center", "dx": -144, "fontSize": 28, "fontWeight": "bold"},
                  "encoding": {
                    "x": {"datum": "1 Week Later", "type": "nominal", "bandPosition": 0, "scale": {"type": "band", "domain": ["1 Week Later", "2 Weeks Later", "3 Weeks Later", "1 Month Later", "2 Months Later", "3 Months Later", "6 Months Later", "1 Year Later"], "paddingInner": 0, "paddingOuter": 0.7978, "align": 1}, "axis": null},
                    "text": {"field": "stat"}
                  }
                }
              ]
            },
            {
              "width": 261,
              "height": 43,
              "view": {"stroke": "black", "strokeWidth": 3},
              "data": {"values": [{"stat": "Average:", "period": "1 Year Max Drawdown", "maxdd": -0.0639}]},
              "mark": {"type": "text", "align": "right", "dx": -5, "fontSize": 28, "fontWeight": "bold"},
              "encoding": {
                "x": {"field": "period", "type": "nominal", "bandPosition": 1, "scale": {"type": "band", "domain": ["1 Year Max Drawdown"], "paddingInner": 0, "paddingOuter": 0}, "axis": null},
                "y": {"field": "stat", "type": "nominal", "bandPosition": 0.5, "scale": {"type": "band", "domain": ["Average:"], "paddingInner": 0, "paddingOuter": 0}, "axis": null},
                "text": {"field": "maxdd", "format": ".2%"}
              }
            }
          ]
        }
      ]
    }
  ]
}
